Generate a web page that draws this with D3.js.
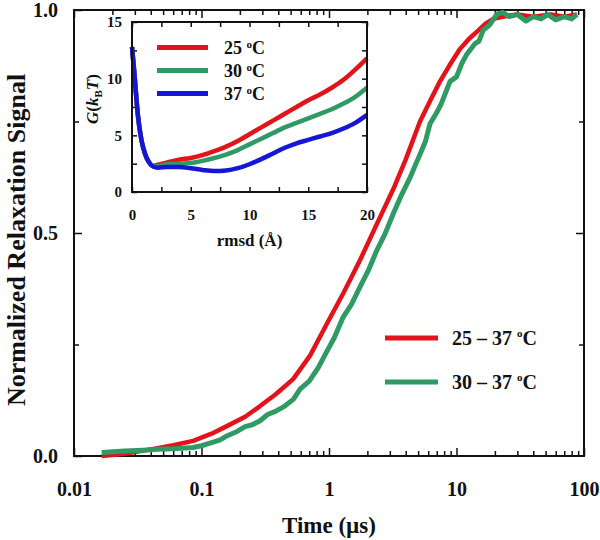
<!DOCTYPE html>
<html>
<head>
<meta charset="utf-8">
<script src="https://cdn.jsdelivr.net/npm/d3@7"></script>
<style>
html,body{margin:0;padding:0;background:#fff;}
svg{display:block;}
text{font-family:"Liberation Serif","Times New Roman",serif;font-weight:bold;fill:#111;}
</style>
</head>
<body>
<svg id="chart" width="600" height="540"></svg>
<script>
// ---------------- data ----------------
const redTime = [0.0165, 0.025, 0.042, 0.06, 0.086, 0.12, 0.158, 0.22, 0.288, 0.38, 0.438, 0.525, 0.71, 0.96, 1.295, 1.75, 2.37, 3.19, 4.0, 5.17, 6.3, 7.42, 9.0, 10.6, 12.5, 14.4, 17, 19.4, 23, 30, 40, 55, 70, 88];
const redSignal = [0.0, 0.005, 0.016, 0.024, 0.034, 0.05, 0.067, 0.088, 0.112, 0.138, 0.153, 0.173, 0.225, 0.296, 0.365, 0.439, 0.52, 0.598, 0.665, 0.75, 0.8, 0.84, 0.88, 0.912, 0.935, 0.951, 0.97, 0.98, 0.985, 0.99, 0.985, 0.99, 0.985, 0.99];

const greenTime = [0.0165, 0.025, 0.035, 0.045, 0.06, 0.075, 0.086, 0.1, 0.12, 0.14, 0.158, 0.19, 0.22, 0.25, 0.288, 0.33, 0.38, 0.45, 0.525, 0.593, 0.7, 0.824, 0.96, 1.1, 1.295, 1.5, 1.75, 2.05, 2.37, 2.75, 3.19, 3.7, 4.32, 4.8, 5.17, 5.7, 6.2, 7.0, 7.6, 8.9, 10, 11, 12, 14, 15, 16.2, 18, 20.7, 23, 26, 30, 35, 40, 46, 52, 60, 70, 80, 88];
const greenSignal = [0.008, 0.011, 0.013, 0.015, 0.016, 0.018, 0.019, 0.023, 0.03, 0.036, 0.045, 0.055, 0.066, 0.07, 0.079, 0.093, 0.1, 0.112, 0.127, 0.15, 0.168, 0.198, 0.234, 0.265, 0.312, 0.34, 0.379, 0.418, 0.461, 0.498, 0.543, 0.585, 0.624, 0.655, 0.676, 0.705, 0.745, 0.77, 0.79, 0.84, 0.85, 0.88, 0.9, 0.925, 0.93, 0.955, 0.965, 0.99, 0.995, 0.985, 0.99, 0.975, 0.985, 0.98, 0.99, 0.978, 0.985, 0.98, 0.99];

const mainLegend = ["25 \u2013 37 ", "30 \u2013 37 "];
const xTickLabels = ["0.01", "0.1", "1", "10", "100"];
const yTickLabels = ["0.0", "0.5", "1.0"];

const rmsd = [0, 0.2, 0.5, 0.8, 1.1, 1.4, 1.8, 2.2, 3, 4, 5, 6, 7, 8, 9, 10, 11, 12, 13, 14, 15, 16, 17, 18, 19, 20];
const g25 = [12.8, 10.5, 6.8, 4.6, 3.4, 2.7, 2.3, 2.4, 2.6, 2.85, 3.0, 3.25, 3.6, 4.0, 4.5, 5.1, 5.7, 6.3, 6.9, 7.5, 8.1, 8.6, 9.2, 9.9, 10.8, 11.8];
const g30 = [12.8, 10.5, 6.8, 4.6, 3.4, 2.7, 2.28, 2.3, 2.45, 2.5, 2.55, 2.75, 3.0, 3.3, 3.7, 4.2, 4.7, 5.2, 5.7, 6.1, 6.5, 6.9, 7.3, 7.8, 8.4, 9.2];
const g37 = [12.8, 10.5, 6.8, 4.6, 3.4, 2.7, 2.25, 2.15, 2.2, 2.2, 2.1, 1.95, 1.85, 1.9, 2.1, 2.45, 2.9, 3.4, 3.9, 4.3, 4.6, 4.9, 5.2, 5.6, 6.1, 6.8];
const insetLegend = ["25 ", "30 ", "37 "];

const RED = "#e3131b", GREEN = "#2f9a64", BLUE = "#1616d6";

// ---------------- main chart ----------------
const svg = d3.select("#chart");
const M = {left: 74, right: 584, top: 10, bottom: 456};

const x = d3.scaleLog().domain([0.01, 100]).range([M.left, M.right]);
const y = d3.scaleLinear().domain([0, 1]).range([M.bottom, M.top]);

const allX = x.ticks();
const majorX = allX.filter(v => Math.abs(Math.log10(v) - Math.round(Math.log10(v))) < 1e-9);
const minorX = allX.filter(v => !majorX.includes(v));

function axisGroup(axis, tx, ty) {
  const g = svg.append("g").attr("transform", `translate(${tx},${ty})`).call(axis);
  g.select(".domain").remove();
  g.selectAll(".tick line").attr("stroke", "#111").attr("stroke-width", 1.5);
  return g;
}

const gxb = axisGroup(d3.axisBottom(x).tickValues(majorX).tickSize(-8).tickPadding(26)
  .tickFormat((d, i) => xTickLabels[i]), 0, M.bottom);
gxb.selectAll("text").attr("font-size", 20);
axisGroup(d3.axisBottom(x).tickValues(minorX).tickSize(-5).tickFormat(""), 0, M.bottom);
axisGroup(d3.axisTop(x).tickValues(majorX).tickSize(-8).tickFormat(""), 0, M.top);
axisGroup(d3.axisTop(x).tickValues(minorX).tickSize(-5).tickFormat(""), 0, M.top);

const gyl = axisGroup(d3.axisLeft(y).tickValues([0, 0.5, 1]).tickSize(-8).tickPadding(16)
  .tickFormat((d, i) => yTickLabels[i]), M.left, 0);
gyl.selectAll("text").attr("font-size", 20);
axisGroup(d3.axisLeft(y).tickValues([0.25, 0.75]).tickSize(-5).tickFormat(""), M.left, 0);
axisGroup(d3.axisRight(y).tickValues([0.5]).tickSize(-8).tickFormat(""), M.right, 0);
axisGroup(d3.axisRight(y).tickValues([0.25, 0.75]).tickSize(-5).tickFormat(""), M.right, 0);

svg.append("rect").attr("x", M.left).attr("y", M.top)
  .attr("width", M.right - M.left).attr("height", M.bottom - M.top)
  .attr("fill", "none").attr("stroke", "#111").attr("stroke-width", 2);

const line = d3.line().x(d => x(d[0])).y(d => y(d[1])).curve(d3.curveLinear);
const redData = redTime.map((t, i) => [t, redSignal[i]]);
const greenData = greenTime.map((t, i) => [t, greenSignal[i]]);

svg.append("path").datum(redData).attr("d", line).attr("fill", "none")
  .attr("stroke", RED).attr("stroke-width", 4.5).attr("stroke-linejoin", "round");
svg.append("path").datum(greenData).attr("d", line).attr("fill", "none")
  .attr("stroke", GREEN).attr("stroke-width", 5).attr("stroke-linejoin", "round");

// main legend
const legColors = [RED, GREEN];
const legY = d3.scaleBand().domain(mainLegend).range([316, 404]);
mainLegend.forEach((lab, i) => {
  const cy = legY(lab) + legY.bandwidth() / 2;
  svg.append("line").attr("x1", 385).attr("x2", 438).attr("y1", cy).attr("y2", cy)
    .attr("stroke", legColors[i]).attr("stroke-width", 5);
  const t = svg.append("text").attr("x", 452).attr("y", cy + 7).attr("font-size", 20);
  t.append("tspan").text(lab);
  t.append("tspan").text("o").attr("font-size", 11).attr("dy", -8);
  t.append("tspan").text("C").attr("dy", 8);
});

// axis titles
svg.append("text").attr("x", (M.left + M.right) / 2).attr("y", 533)
  .attr("text-anchor", "middle").attr("font-size", 23).text("Time (\u00b5s)");
svg.append("text").attr("transform", `translate(25,240) rotate(-90)`)
  .attr("text-anchor", "middle").attr("font-size", 26).text("Normalized Relaxation Signal");

// ---------------- inset ----------------
const I = {left: 132, right: 367, top: 22, bottom: 192};
const xi = d3.scaleLinear().domain([0, 20]).range([I.left, I.right]);
const yi = d3.scaleLinear().domain([0, 15]).range([I.bottom, I.top]);

svg.append("rect").attr("x", I.left).attr("y", I.top)
  .attr("width", I.right - I.left).attr("height", I.bottom - I.top)
  .attr("fill", "#fff").attr("stroke", "none");

const ixTicks = d3.range(0, 20.01, 2.5);
const iyTicks = d3.range(0, 15.01, 2.5);
const gix = axisGroup(d3.axisBottom(xi).tickValues(ixTicks).tickSize(-5).tickPadding(17)
  .tickFormat(d => d % 5 === 0 ? String(d) : ""), 0, I.bottom);
gix.selectAll("text").attr("font-size", 15);
axisGroup(d3.axisTop(xi).tickValues(ixTicks).tickSize(-5).tickFormat(""), 0, I.top);
const giy = axisGroup(d3.axisLeft(yi).tickValues(iyTicks).tickSize(-5).tickPadding(10)
  .tickFormat(d => d % 5 === 0 ? String(d) : ""), I.left, 0);
giy.selectAll("text").attr("font-size", 15);
axisGroup(d3.axisRight(yi).tickValues(iyTicks).tickSize(-5).tickFormat(""), I.right, 0);

const iline = d3.line().x(d => xi(d[0])).y(d => yi(d[1])).curve(d3.curveMonotoneX);
const series = [[g25, RED], [g30, GREEN], [g37, BLUE]];
series.forEach(([vals, col]) => {
  svg.append("path").datum(rmsd.map((r, i) => [r, vals[i]])).attr("d", iline)
    .attr("fill", "none").attr("stroke", col).attr("stroke-width", 4.5)
    .attr("stroke-linejoin", "round");
});

svg.append("rect").attr("x", I.left).attr("y", I.top)
  .attr("width", I.right - I.left).attr("height", I.bottom - I.top)
  .attr("fill", "none").attr("stroke", "#111").attr("stroke-width", 2);

// inset legend
const ilegY = d3.scaleBand().domain(insetLegend).range([36, 105]);
insetLegend.forEach((lab, i) => {
  const cy = ilegY(lab) + ilegY.bandwidth() / 2;
  svg.append("line").attr("x1", 157).attr("x2", 208).attr("y1", cy).attr("y2", cy)
    .attr("stroke", series[i][1]).attr("stroke-width", 5);
  const t = svg.append("text").attr("x", 224).attr("y", cy + 6).attr("font-size", 18);
  t.append("tspan").text(lab);
  t.append("tspan").text("o").attr("font-size", 11).attr("dy", -6);
  t.append("tspan").text("C").attr("dy", 6);
});

// inset axis titles
svg.append("text").attr("x", (I.left + I.right) / 2).attr("y", 246)
  .attr("text-anchor", "middle").attr("font-size", 17).text("rmsd (\u00c5)");
const yl = svg.append("text").attr("transform", `translate(98,${(I.top + I.bottom) / 2 - 8}) rotate(-90)`)
  .attr("text-anchor", "middle").attr("font-size", 17);
yl.append("tspan").text("G").attr("font-style", "italic");
yl.append("tspan").text("(");
yl.append("tspan").text("k").attr("font-style", "italic");
yl.append("tspan").text("B").attr("font-size", 11).attr("dy", 4);
yl.append("tspan").text("T").attr("font-style", "italic").attr("dy", -4);
yl.append("tspan").text(")");
</script>
</body>
</html>
